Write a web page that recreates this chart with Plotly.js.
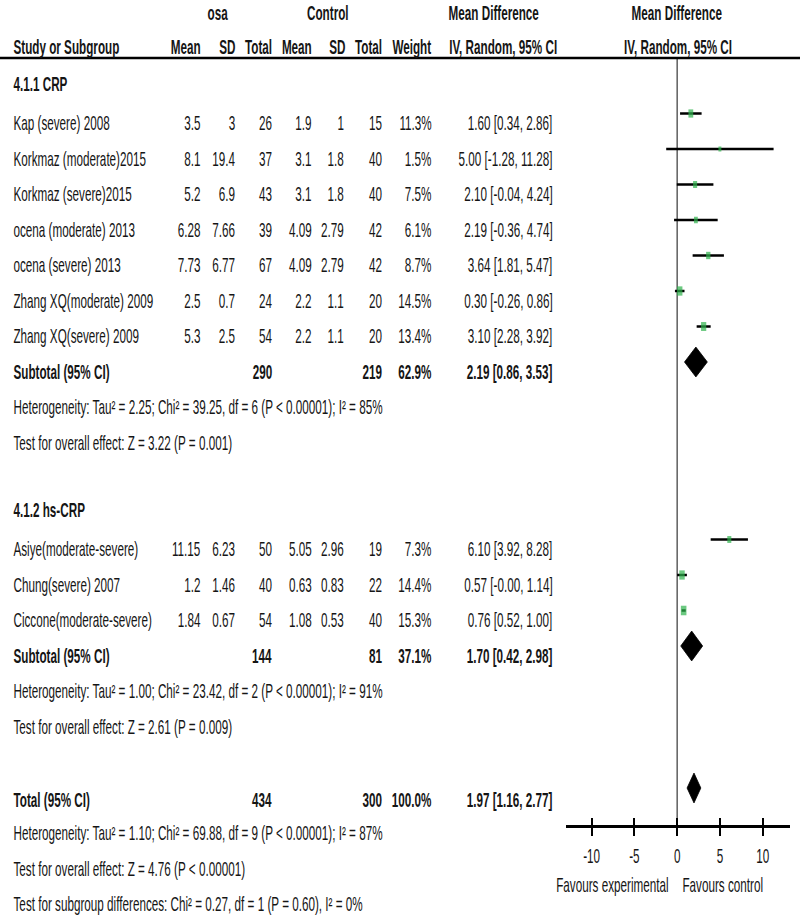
<!DOCTYPE html>
<html>
<head>
<meta charset="utf-8">
<script src="https://cdn.plot.ly/plotly-3.0.1.min.js"></script>
<style>
  html, body { margin: 0; padding: 0; background: #fff; }
  #wrap { width: 800px; height: 915px; overflow: hidden; position: relative; }
  #plot { width: 1368px; height: 915px; transform: scale(0.5848, 1); transform-origin: 0 0; }
</style>
</head>
<body>
<div id="wrap"><div id="plot"></div></div>
<script>
// ---------------- DATA ----------------
const crpStudies = ["Kap (severe) 2008", "Korkmaz (moderate)2015", "Korkmaz (severe)2015",
  "ocena (moderate) 2013", "ocena (severe) 2013", "Zhang XQ(moderate) 2009", "Zhang XQ(severe) 2009"];
const crpOsaMean = [3.5, 8.1, 5.2, 6.28, 7.73, 2.5, 5.3];
const crpOsaSD = [3, 19.4, 6.9, 7.66, 6.77, 0.7, 2.5];
const crpOsaN = [26, 37, 43, 39, 67, 24, 54];
const crpCtrlMean = [1.9, 3.1, 3.1, 4.09, 4.09, 2.2, 2.2];
const crpCtrlSD = [1, 1.8, 1.8, 2.79, 2.79, 1.1, 1.1];
const crpCtrlN = [15, 40, 40, 42, 42, 20, 20];
const crpWeight = [11.3, 1.5, 7.5, 6.1, 8.7, 14.5, 13.4];
const crpMD = [1.60, 5.00, 2.10, 2.19, 3.64, 0.30, 3.10];
const crpLo = [0.34, -1.28, -0.04, -0.36, 1.81, -0.26, 2.28];
const crpHi = [2.86, 11.28, 4.24, 4.74, 5.47, 0.86, 3.92];
const crpSubtotal = { osaN: 290, ctrlN: 219, weight: 62.9, md: 2.19, lo: 0.86, hi: 3.53 };

const hsStudies = ["Asiye(moderate-severe)", "Chung(severe) 2007", "Ciccone(moderate-severe)"];
const hsOsaMean = [11.15, 1.2, 1.84];
const hsOsaSD = [6.23, 1.46, 0.67];
const hsOsaN = [50, 40, 54];
const hsCtrlMean = [5.05, 0.63, 1.08];
const hsCtrlSD = [2.96, 0.83, 0.53];
const hsCtrlN = [19, 22, 40];
const hsWeight = [7.3, 14.4, 15.3];
const hsMD = [6.10, 0.57, 0.76];
const hsLo = [3.92, -0.003, 0.52];
const hsHi = [8.28, 1.14, 1.00];
const hsSubtotal = { osaN: 144, ctrlN: 81, weight: 37.1, md: 1.70, lo: 0.42, hi: 2.98 };

const overall = { osaN: 434, ctrlN: 300, weight: 100.0, md: 1.97, lo: 1.16, hi: 2.77 };

const crpHet = "Heterogeneity: Tau² = 2.25; Chi² = 39.25, df = 6 (P &lt; 0.00001); I² = 85%";
const crpTest = "Test for overall effect: Z = 3.22 (P = 0.001)";
const hsHet = "Heterogeneity: Tau² = 1.00; Chi² = 23.42, df = 2 (P &lt; 0.00001); I² = 91%";
const hsTest = "Test for overall effect: Z = 2.61 (P = 0.009)";
const totHet = "Heterogeneity: Tau² = 1.10; Chi² = 69.88, df = 9 (P &lt; 0.00001); I² = 87%";
const totTest = "Test for overall effect: Z = 4.76 (P &lt; 0.00001)";
const subgroupTest = "Test for subgroup differences: Chi² = 0.27, df = 1 (P = 0.60), I² = 0%";

const axisTicks = [-10, -5, 0, 5, 10];
const favoursLeft = "Favours experimental";
const favoursRight = "Favours control";

// ---------------- LAYOUT HELPERS ----------------
const FONT = "'Liberation Sans', Arial, Helvetica, sans-serif";
const TXT = "#151515";
const FS = 20;
const ROW0 = 42.5, ROWH = 35.5, TEXT_OFF = 9.5, PH = 915, PW = 800;
const px = x => x / PW;
const py = y => 1 - y / PH;
const rowTextY = r => py(ROW0 + ROWH * r + TEXT_OFF);

const col = { name: 12, osaMean: 202, osaSD: 236, osaN: 273, cMean: 313, cSD: 345, cN: 383, weight: 433, ci: 554 };

const annotations = [];
function txt(text, xpx, y, anchor, bold, size) {
  annotations.push({
    text: bold ? "<b>" + text + "</b>" : text,
    xref: "paper", yref: "paper", x: px(xpx), y: y,
    xanchor: anchor, yanchor: "middle", showarrow: false,
    font: { family: FONT, size: size || FS, color: TXT }
  });
}
const fmtCI = (m, l, h) => m.toFixed(2) + " [" + l.toFixed(2) + ", " + h.toFixed(2) + "]";
const fmtW = w => w.toFixed(1) + "%";

// headers
txt("osa", 218, py(13), "center", true);
txt("Control", 328, py(13), "center", true);
txt("Mean Difference", 494, py(13), "center", true);
txt("Mean Difference", 677, py(13), "center", true);
txt("Study or Subgroup", col.name, py(47), "left", true);
txt("Mean", col.osaMean, py(47), "right", true);
txt("SD", col.osaSD + 1, py(47), "right", true);
txt("Total", col.osaN, py(47), "right", true);
txt("Mean", col.cMean, py(47), "right", true);
txt("SD", col.cSD + 2, py(47), "right", true);
txt("Total", col.cN, py(47), "right", true);
txt("Weight", col.weight, py(47), "right", true);
txt("IV, Random, 95% CI", 448, py(47), "left", true);
txt("IV, Random, 95% CI", 678, py(47), "center", true);

// row layout
const groups = [
  { title: "4.1.1 CRP", titleRow: 1, firstRow: 2, names: crpStudies, om: crpOsaMean, os: crpOsaSD, on: crpOsaN,
    cm: crpCtrlMean, cs: crpCtrlSD, cn: crpCtrlN, w: crpWeight, md: crpMD, lo: crpLo, hi: crpHi,
    sub: crpSubtotal, het: crpHet, test: crpTest },
  { title: "4.1.2 hs-CRP", titleRow: 13, firstRow: 14, names: hsStudies, om: hsOsaMean, os: hsOsaSD, on: hsOsaN,
    cm: hsCtrlMean, cs: hsCtrlSD, cn: hsCtrlN, w: hsWeight, md: hsMD, lo: hsLo, hi: hsHi,
    sub: hsSubtotal, het: hsHet, test: hsTest }
];

const traces = [];
const diamondHalf = 0.42;
function diamond(s, r) {
  traces.push({
    type: "scatter", mode: "lines", xaxis: "x2", yaxis: "y",
    x: [s.lo, s.md, s.hi, s.md, s.lo],
    y: [r, r - diamondHalf, r, r + diamondHalf, r],
    fill: "toself", fillcolor: "#000", line: { color: "#000", width: 1 },
    hoverinfo: "skip", showlegend: false
  });
}

groups.forEach(g => {
  txt(g.title, col.name, rowTextY(g.titleRow) + 0.004, "left", true);
  const rows = g.names.map((_, i) => g.firstRow + i);
  g.names.forEach((n, i) => {
    const y = rowTextY(rows[i]);
    txt(n, col.name, y, "left", false);
    txt(String(g.om[i]), col.osaMean, y, "right", false);
    txt(String(g.os[i]), col.osaSD, y, "right", false);
    txt(String(g.on[i]), col.osaN, y, "right", false);
    txt(String(g.cm[i]), col.cMean, y, "right", false);
    txt(String(g.cs[i]), col.cSD, y, "right", false);
    txt(String(g.cn[i]), col.cN, y, "right", false);
    txt(fmtW(g.w[i]), col.weight, y, "right", false);
    txt(fmtCI(g.md[i], g.lo[i], g.hi[i]), col.ci, y, "right", false);
  });
  const subRow = g.firstRow + g.names.length;
  const ys = rowTextY(subRow);
  txt("Subtotal (95% CI)", col.name, ys, "left", true);
  txt(String(g.sub.osaN), col.osaN, ys, "right", true);
  txt(String(g.sub.ctrlN), col.cN, ys, "right", true);
  txt(fmtW(g.sub.weight), col.weight, ys, "right", true);
  txt(fmtCI(g.sub.md, g.sub.lo, g.sub.hi), col.ci, ys, "right", true);
  txt(g.het, col.name, rowTextY(subRow + 1), "left", false);
  txt(g.test, col.name, rowTextY(subRow + 2), "left", false);

  // study CIs and markers
  traces.push({
    type: "scatter", mode: "markers", xaxis: "x", yaxis: "y",
    x: g.md, y: rows,
    error_x: { type: "data", symmetric: false,
      array: g.hi.map((h, i) => h - g.md[i]),
      arrayminus: g.lo.map((l, i) => g.md[i] - l),
      color: "#000", thickness: 2.5, width: 0 },
    marker: { symbol: "square", color: "#2eb24b", size: g.w.map(w => 4.5 + 0.33 * w), line: { width: 0 } },
    hoverinfo: "skip", showlegend: false, cliponaxis: false
  });
  diamond(g.sub, subRow);
});

// overall
const totRow = 21;
const yt = rowTextY(totRow) - 0.003;
txt("Total (95% CI)", col.name, yt, "left", true);
txt(String(overall.osaN), col.osaN, yt, "right", true);
txt(String(overall.ctrlN), col.cN, yt, "right", true);
txt(fmtW(overall.weight), col.weight, yt, "right", true);
txt(fmtCI(overall.md, overall.lo, overall.hi), col.ci, yt, "right", true);
txt(totHet, col.name, rowTextY(22), "left", false);
txt(totTest, col.name, rowTextY(23), "left", false);
txt(subgroupTest, col.name, rowTextY(24), "left", false);
diamond(overall, totRow);

txt(favoursLeft, 612, py(885), "center", false);
txt(favoursRight, 723, py(885), "center", false);

const axisPos = py(826);
const xDomain = [px(566), px(790)];
const xRange = [-13, 13.2];

const layout = {
  width: 1368, height: 915,
  margin: { l: 0, r: 0, t: 0, b: 0 },
  paper_bgcolor: "#fff", plot_bgcolor: "rgba(0,0,0,0)",
  showlegend: false,
  font: { family: FONT, size: FS, color: TXT },
  xaxis: {
    domain: xDomain, range: xRange, anchor: "free", position: axisPos,
    showline: true, linecolor: "#000", linewidth: 2.5,
    ticks: "outside", ticklen: 8, tickwidth: 3.5, tickcolor: "#000",
    tickvals: axisTicks, ticktext: axisTicks.map(String),
    tickfont: { family: FONT, size: FS, color: TXT },
    ticklabelstandoff: 4,
    showgrid: false, zeroline: false, fixedrange: true
  },
  xaxis2: {
    overlaying: "x", matches: "x", domain: xDomain, range: xRange,
    anchor: "free", position: axisPos, side: "bottom",
    ticks: "inside", ticklen: 8, tickwidth: 3.5, tickcolor: "#000",
    tickvals: axisTicks, showticklabels: false,
    showline: false, showgrid: false, zeroline: false
  },
  yaxis: {
    domain: [0, 1], range: [(PH - ROW0) / ROWH, (0 - ROW0) / ROWH],
    visible: false, showgrid: false, zeroline: false, fixedrange: true
  },
  shapes: [
    { type: "line", xref: "paper", yref: "paper", x0: 0, x1: 1, y0: py(58), y1: py(58),
      line: { color: "#000", width: 2.5 } },
    { type: "line", xref: "x", yref: "paper", x0: 0, x1: 0, y0: py(826), y1: py(58),
      line: { color: "#444", width: 2.2 }, layer: "below" }
  ],
  annotations: annotations
};

Plotly.newPlot("plot", traces, layout, { staticPlot: true, displayModeBar: false });
</script>
</body>
</html>
